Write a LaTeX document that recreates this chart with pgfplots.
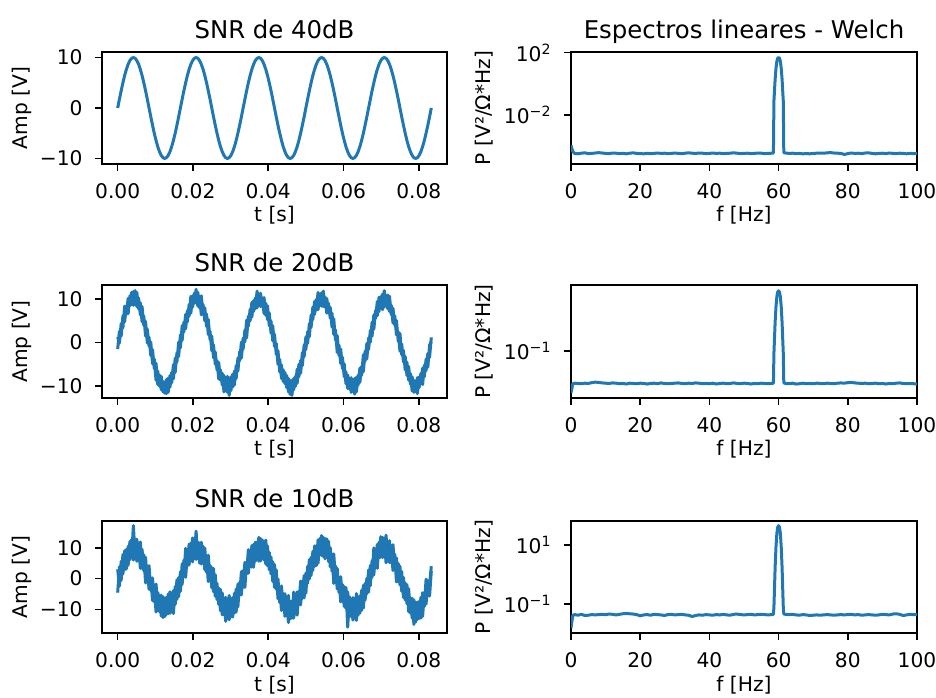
\documentclass[border=0pt]{standalone}
\usepackage{fontspec}
\setmainfont{DejaVu Sans}
\usepackage{pgfplots}
\usepackage{pgfplotstable}
\pgfplotsset{compat=1.18}

\definecolor{c0}{HTML}{1F77B4}
\newcommand\tickfont{\fontsize{10.1bp}{12bp}\selectfont}
\newcommand\titlefont{\fontsize{12.2bp}{14bp}\selectfont}

% time records: 40 dB trace, and two interleaved sample sets (a, b) for 20 dB and 10 dB
\pgfplotstableread{
t s40 a20 b20 a10 b10
0.00000 0 -1.5 1.3 -4.6 3.0
0.00046 1.74 2.6 -0.1 3.8 -2.5
0.00093 3.42 1.5 4.4 -0.6 5.6
0.00139 5.00 6.2 3.4 7.8 1.4
0.00185 6.43 4.8 8.4 2.8 9.0
0.00231 7.66 8.5 6.5 9.5 3.1
0.00278 8.66 6.7 10.2 4.3 10.5
0.00324 9.40 10.8 8.5 12.0 6.1
0.00370 9.85 8.8 11.6 6.9 12.7
0.00417 10.00 11.8 8.6 17.2 6.0
0.00463 9.85 8.7 12.0 7.5 12.3
0.00509 9.40 11.6 8.3 12.8 5.6
0.00556 8.66 7.8 10.3 6.7 10.7
0.00602 7.66 9.2 6.4 11.9 3.3
0.00648 6.43 4.8 8.3 3.3 9.5
0.00694 5.00 6.1 4.0 7.7 2.5
0.00741 3.42 1.5 4.9 -1.4 6.9
0.00787 1.74 3.1 -0.1 4.0 -1.3
0.00833 0 -0.8 1.2 -3.5 4.2
0.00880 -1.74 0.1 -3.0 0.2 -3.9
0.00926 -3.42 -4.9 -1.6 -7.2 0.2
0.00972 -5.00 -3.8 -6.0 -2.1 -7.6
0.01019 -6.43 -8.7 -4.8 -10.9 -1.8
0.01065 -7.66 -6.6 -9.7 -4.5 -9.5
0.01111 -8.66 -10.1 -7.5 -10.8 -5.4
0.01157 -9.40 -7.8 -10.9 -5.4 -12.2
0.01204 -9.85 -11.4 -9.0 -12.7 -5.9
0.01250 -10.00 -9.1 -11.7 -6.4 -12.4
0.01296 -9.85 -11.8 -8.5 -11.7 -6.1
0.01343 -9.40 -8.2 -11.5 -5.0 -11.4
0.01389 -8.66 -10.3 -7.6 -11.3 -4.3
0.01435 -7.66 -6.9 -9.3 -4.7 -10.8
0.01481 -6.43 -8.4 -5.1 -11.4 -3.9
0.01528 -5.00 -3.6 -6.9 -2.6 -8.5
0.01574 -3.42 -4.5 -2.4 -6.8 -0.4
0.01620 -1.74 0.1 -3.2 0.3 -5.9
0.01667 0 -1.2 1.8 -4.2 2.2
0.01713 1.74 3.9 0.5 4.8 -1.9
0.01759 3.42 2.5 4.7 0.7 6.0
0.01806 5.00 6.5 3.2 9.8 0.4
0.01852 6.43 4.8 7.4 4.1 8.2
0.01898 7.66 8.8 6.1 11.2 4.4
0.01944 8.66 6.8 10.7 6.8 11.5
0.01991 9.40 10.8 8.2 13.2 5.4
0.02037 9.85 9.1 11.4 7.0 12.3
0.02083 10.00 12.3 9.1 15.4 6.2
0.02130 9.85 8.4 11.6 6.7 11.9
0.02176 9.40 10.6 8.0 11.5 5.0
0.02222 8.66 6.4 10.8 4.7 11.8
0.02269 7.66 8.8 6.6 10.5 5.2
0.02315 6.43 5.0 8.0 2.8 9.9
0.02361 5.00 6.6 3.7 6.8 2.0
0.02407 3.42 1.9 5.3 -1.0 7.6
0.02454 1.74 2.6 0.7 4.3 -0.5
0.02500 0 -1.9 1.5 -3.0 3.6
0.02546 -1.74 -0.5 -3.5 3.3 -4.3
0.02593 -3.42 -5.0 -2.2 -5.8 1.2
0.02639 -5.00 -4.2 -6.3 -1.6 -6.8
0.02685 -6.43 -8.4 -4.6 -8.4 -3.1
0.02731 -7.66 -6.3 -8.7 -3.5 -10.5
0.02778 -8.66 -9.8 -7.1 -11.8 -4.7
0.02824 -9.40 -7.6 -11.4 -6.7 -11.8
0.02870 -9.85 -11.1 -8.7 -13.9 -6.1
0.02917 -10.00 -7.8 -11.5 -7.7 -12.0
0.02963 -9.85 -12.2 -9.0 -13.4 -5.5
0.03009 -9.40 -7.9 -11.1 -7.5 -12.5
0.03056 -8.66 -10.3 -7.3 -12.5 -6.2
0.03102 -7.66 -6.6 -9.8 -4.8 -11.2
0.03148 -6.43 -8.3 -5.3 -10.9 -3.4
0.03194 -5.00 -3.6 -6.6 -1.8 -9.2
0.03241 -3.42 -4.2 -2.1 -5.5 -1.2
0.03287 -1.74 0.1 -3.6 2.3 -5.3
0.03333 0 -1.5 1.0 -2.8 2.6
0.03380 1.74 2.9 0.2 5.3 -2.9
0.03426 3.42 1.1 5.2 1.6 5.2
0.03472 5.00 6.1 3.8 9.4 1.7
0.03519 6.43 5.0 7.7 3.8 9.2
0.03565 7.66 9.3 5.9 10.7 3.7
0.03611 8.66 7.2 9.7 3.7 11.1
0.03657 9.40 10.3 7.8 11.8 5.6
0.03704 9.85 8.0 11.9 6.5 11.9
0.03750 10.00 11.2 8.8 13.4 5.6
0.03796 9.85 8.3 11.4 5.7 13.0
0.03843 9.40 10.2 8.5 12.5 6.9
0.03889 8.66 6.7 10.4 6.0 12.2
0.03935 7.66 9.1 6.3 12.5 4.7
0.03981 6.43 5.3 8.5 4.1 10.6
0.04028 5.00 6.8 3.9 8.5 2.8
0.04074 3.42 2.2 5.0 1.5 7.0
0.04120 1.74 3.9 0.4 5.5 -0.9
0.04167 0 -0.9 1.9 -2.9 4.6
0.04213 -1.74 -0.2 -2.7 2.8 -3.5
0.04259 -3.42 -5.0 -1.9 -6.6 -0.1
0.04306 -5.00 -3.9 -6.8 -2.9 -7.8
0.04352 -6.43 -8.3 -5.2 -10.4 -2.4
0.04398 -7.66 -6.3 -9.0 -4.9 -10.1
0.04444 -8.66 -9.5 -6.9 -12.3 -4.9
0.04491 -9.40 -7.6 -10.4 -7.6 -11.4
0.04537 -9.85 -11.4 -8.3 -14.3 -5.5
0.04583 -10.00 -8.8 -12.0 -7.4 -13.1
0.04630 -9.85 -12.2 -8.7 -12.9 -7.4
0.04676 -9.40 -8.3 -10.9 -4.4 -12.9
0.04722 -8.66 -10.1 -7.8 -11.1 -5.7
0.04769 -7.66 -6.1 -9.4 -4.3 -11.9
0.04815 -6.43 -7.9 -5.0 -8.4 -4.2
0.04861 -5.00 -4.1 -7.1 -0.8 -8.6
0.04907 -3.42 -5.3 -2.3 -6.5 -0.8
0.04954 -1.74 -0.5 -3.3 1.0 -6.3
0.05000 0 -1.6 1.3 -4.8 1.8
0.05046 1.74 2.5 -0.2 4.0 -1.6
0.05093 3.42 1.4 4.4 -0.1 6.2
0.05139 5.00 6.4 3.5 6.9 1.0
0.05185 6.43 5.3 8.2 2.6 8.8
0.05231 7.66 9.5 6.5 10.6 3.9
0.05278 8.66 7.5 10.0 4.2 10.7
0.05324 9.40 11.6 7.6 12.6 5.0
0.05370 9.85 9.0 10.9 7.8 13.0
0.05417 10.00 11.5 8.4 14.0 7.5
0.05463 9.85 8.3 11.9 7.1 13.4
0.05509 9.40 10.5 8.2 13.0 6.4
0.05556 8.66 6.8 10.2 6.9 12.9
0.05602 7.66 9.1 6.8 12.1 5.5
0.05648 6.43 5.6 8.1 3.8 10.0
0.05694 5.00 6.8 3.6 8.0 2.4
0.05741 3.42 1.9 5.5 -1.6 8.0
0.05787 1.74 2.9 0.6 4.1 -0.1
0.05833 0 -2.3 1.6 -3.4 3.3
0.05880 -1.74 -0.6 -3.0 0.3 -4.5
0.05926 -3.42 -4.8 -1.5 -7.6 0.6
0.05972 -5.00 -3.4 -6.0 -1.9 -7.4
0.06019 -6.43 -7.9 -4.9 -9.1 -2.6
0.06065 -7.66 -6.8 -9.5 -2.9 -9.7
0.06111 -8.66 -10.6 -7.5 -15.8 -4.3
0.06157 -9.40 -8.2 -10.7 -5.9 -12.5
0.06204 -9.85 -11.5 -8.1 -11.8 -7.4
0.06250 -10.00 -9.2 -11.0 -6.2 -13.5
0.06296 -9.85 -11.9 -8.3 -12.8 -6.9
0.06343 -9.40 -8.0 -11.4 -4.9 -13.6
0.06389 -8.66 -9.8 -7.5 -11.9 -6.5
0.06435 -7.66 -5.9 -9.2 -5.6 -11.3
0.06481 -6.43 -7.6 -5.5 -10.4 -3.8
0.06528 -5.00 -2.8 -6.7 -2.2 -9.6
0.06574 -3.42 -4.3 -2.0 -7.0 -1.6
0.06620 -1.74 -0.2 -3.8 0.1 -5.0
0.06667 0 -1.6 1.1 -4.4 2.8
0.06713 1.74 2.8 0.1 4.3 -2.3
0.06759 3.42 1.5 4.7 0.4 5.8
0.06806 5.00 6.4 3.1 10.0 1.2
0.06852 6.43 5.6 7.4 4.0 8.4
0.06898 7.66 9.5 6.2 11.1 3.3
0.06944 8.66 7.2 10.5 6.7 11.8
0.06991 9.40 10.6 8.2 13.6 6.9
0.07037 9.85 7.6 11.2 6.8 13.4
0.07083 10.00 12.0 8.2 12.7 7.0
0.07130 9.85 8.5 10.9 5.1 14.1
0.07176 9.40 11.0 7.8 11.7 7.2
0.07222 8.66 7.2 10.7 5.2 12.3
0.07269 7.66 8.6 6.5 9.6 5.1
0.07315 6.43 4.5 7.9 2.6 11.0
0.07361 5.00 6.2 4.1 7.9 3.2
0.07407 3.42 1.8 5.1 -1.1 6.7
0.07454 1.74 2.5 0.3 4.9 -1.1
0.07500 0 -2.0 2.1 -2.1 4.0
0.07546 -1.74 -0.3 -2.8 2.3 -4.1
0.07593 -3.42 -4.5 -1.8 -6.2 0.4
0.07639 -5.00 -3.2 -6.3 -1.4 -7.0
0.07685 -6.43 -7.6 -4.5 -8.2 -2.0
0.07731 -7.66 -5.5 -8.7 -3.3 -10.8
0.07778 -8.66 -9.6 -7.2 -11.3 -6.2
0.07824 -9.40 -7.9 -11.2 -6.4 -12.9
0.07870 -9.85 -11.5 -8.7 -14.9 -6.9
0.07917 -10.00 -8.9 -11.3 -7.6 -14.2
0.07963 -9.85 -11.8 -8.1 -13.3 -7.7
0.08009 -9.40 -8.0 -10.4 -7.4 -13.0
0.08056 -8.66 -9.5 -7.1 -12.9 -6.1
0.08102 -7.66 -5.9 -9.7 -4.6 -12.3
0.08148 -6.43 -7.9 -5.2 -9.1 -4.6
0.08194 -5.00 -3.8 -6.5 -0.2 -8.3
0.08241 -3.42 -5.7 -2.5 -5.7 -0.6
0.08287 -1.74 -0.6 -3.4 -2.0 -5.7
0.08333 0 0.2 1.2 4.0 2.4
}\sig

% Welch power spectral densities
\pgfplotstableread{
f p40 p20 p10
0 1.1e-4 1.3e-3 1.55e-2
0.5 4.6e-5 3.3e-3 4.1e-2
1 3.4e-5 3.6e-3 4.4e-2
2 3.2e-5 3.5e-3 4.2e-2
3 3.5e-5 3.4e-3 4.5e-2
4 3.7e-5 3.6e-3 4.1e-2
5 3.3e-5 3.5e-3 4.2e-2
6 3.4e-5 3.8e-3 4.4e-2
7 3.6e-5 4.0e-3 4.3e-2
8 3.8e-5 3.9e-3 4.4e-2
9 3.6e-5 3.7e-3 4.5e-2
10 3.4e-5 3.6e-3 4.4e-2
11 3.3e-5 3.5e-3 4.6e-2
12 3.6e-5 3.7e-3 4.5e-2
13 3.5e-5 3.6e-3 4.3e-2
14 3.3e-5 3.4e-3 4.5e-2
15 3.4e-5 3.5e-3 4.7e-2
16 3.2e-5 3.3e-3 4.8e-2
17 3.5e-5 3.6e-3 4.7e-2
18 3.7e-5 3.5e-3 4.6e-2
19 3.4e-5 3.4e-3 4.4e-2
20 3.3e-5 3.6e-3 4.0e-2
21 3.2e-5 3.5e-3 4.3e-2
22 3.4e-5 3.3e-3 4.4e-2
23 3.3e-5 3.5e-3 4.2e-2
24 3.4e-5 3.6e-3 4.5e-2
25 3.6e-5 3.4e-3 4.4e-2
26 3.4e-5 3.7e-3 4.3e-2
27 3.5e-5 3.5e-3 4.1e-2
28 3.3e-5 3.4e-3 4.4e-2
29 3.4e-5 3.5e-3 4.5e-2
30 3.6e-5 3.6e-3 4.3e-2
31 3.4e-5 3.7e-3 4.4e-2
32 3.3e-5 3.5e-3 4.5e-2
33 3.5e-5 3.4e-3 4.3e-2
34 3.7e-5 3.6e-3 4.2e-2
35 3.5e-5 3.5e-3 3.8e-2
36 3.4e-5 3.7e-3 4.1e-2
37 3.6e-5 3.6e-3 4.3e-2
38 3.5e-5 3.4e-3 4.2e-2
39 3.3e-5 3.5e-3 4.4e-2
40 3.4e-5 3.4e-3 4.3e-2
41 3.6e-5 3.6e-3 4.2e-2
42 3.4e-5 3.3e-3 4.4e-2
43 3.5e-5 3.5e-3 4.3e-2
44 3.3e-5 3.6e-3 4.5e-2
45 3.4e-5 3.4e-3 4.3e-2
46 3.5e-5 3.5e-3 4.2e-2
47 3.7e-5 3.7e-3 4.5e-2
48 3.5e-5 3.5e-3 4.6e-2
49 3.3e-5 3.4e-3 4.4e-2
50 3.4e-5 3.6e-3 4.3e-2
51 3.5e-5 3.5e-3 4.4e-2
52 3.3e-5 3.3e-3 4.5e-2
53 3.4e-5 3.5e-3 4.3e-2
54 3.6e-5 3.4e-3 4.4e-2
55 3.5e-5 3.6e-3 4.5e-2
56 3.3e-5 3.5e-3 4.4e-2
57 3.4e-5 3.4e-3 4.3e-2
58 3.5e-5 3.5e-3 4.4e-2
58.5 3.6e-5 3.6e-3 4.5e-2
58.65 0.08 0.08 0.08
59 2 2 1.8
59.25 10 10 9
59.5 28 28 25
59.75 44 44 40
60 50 50 45
60.25 44 44 40
60.5 28 28 25
60.75 10 10 9
61 2 2 1.8
61.35 0.08 0.08 0.08
61.5 3.8e-5 3.7e-3 4.6e-2
62 3.6e-5 3.5e-3 4.5e-2
63 3.4e-5 3.4e-3 4.4e-2
64 3.5e-5 3.6e-3 4.5e-2
65 3.3e-5 3.3e-3 4.3e-2
66 3.4e-5 3.4e-3 4.2e-2
67 3.2e-5 3.6e-3 4.4e-2
68 3.3e-5 3.4e-3 4.3e-2
69 3.2e-5 3.5e-3 4.1e-2
70 3.4e-5 3.4e-3 4.2e-2
71 3.5e-5 3.6e-3 4.3e-2
72 3.6e-5 3.5e-3 4.2e-2
73 3.5e-5 3.4e-3 4.3e-2
74 3.7e-5 3.6e-3 4.4e-2
75 3.8e-5 3.5e-3 4.3e-2
76 3.6e-5 3.4e-3 4.2e-2
77 3.5e-5 3.6e-3 4.3e-2
78 3.4e-5 3.7e-3 4.4e-2
79 2.9e-5 3.6e-3 4.3e-2
80 3.3e-5 3.8e-3 4.4e-2
81 3.6e-5 3.9e-3 4.5e-2
82 3.4e-5 3.7e-3 4.3e-2
83 3.5e-5 3.6e-3 4.4e-2
84 3.3e-5 3.5e-3 4.2e-2
85 3.6e-5 3.6e-3 4.3e-2
86 3.7e-5 3.4e-3 4.4e-2
87 3.4e-5 3.5e-3 4.3e-2
88 3.2e-5 3.6e-3 4.2e-2
89 3.4e-5 3.4e-3 4.3e-2
90 3.5e-5 3.5e-3 4.5e-2
91 3.3e-5 3.3e-3 4.4e-2
92 3.6e-5 3.5e-3 4.3e-2
93 3.4e-5 3.4e-3 4.6e-2
94 3.3e-5 3.6e-3 4.7e-2
95 3.5e-5 3.7e-3 4.5e-2
96 3.4e-5 3.5e-3 4.1e-2
97 3.2e-5 3.4e-3 4.3e-2
98 3.4e-5 3.5e-3 4.5e-2
99 3.3e-5 3.4e-3 4.4e-2
100 3.4e-5 3.3e-3 4.4e-2
}\psd

\pgfplotsset{
  mpl/.style={
    scale only axis, anchor=south west,
    axis line style={line width=0.8bp},
    tick align=outside,
    major tick length=3.55bp, minor tick length=0pt,
    every tick/.style={black, line width=0.8bp},
    xtick pos=bottom, ytick pos=left,
    scaled x ticks=false, scaled y ticks=false,
    tick label style={font=\tickfont},
    xticklabel style={inner sep=0pt, anchor=base, yshift=-13.7bp},
    yticklabel style={inner sep=0pt, anchor=east, xshift=-6bp},
    label style={font=\tickfont},
    xlabel style={at={(axis description cs:0.5,0)}, anchor=base, yshift=-29bp, inner sep=0pt},
    every axis title shift=0pt,
    title style={font=\titlefont, at={(axis description cs:0.5,1)}, anchor=base, yshift=6.8bp, inner sep=0pt},
    /pgf/number format/assume math mode=true,
  },
  sigax/.style={mpl, width=172.5bp,
    xmin=-0.0041667, xmax=0.0875,
    xtick={0,0.02,0.04,0.06,0.08},
    xticklabels={0.00,0.02,0.04,0.06,0.08},
    ytick={-10,0,10}, yticklabels={−10,0,10},
    xlabel={t [s]}, ylabel={Amp [V]},
    ylabel style={at={(axis description cs:-0.2328,0.5)}, anchor=center, inner sep=0pt},
  },
  psdax/.style={mpl, width=173bp,
    xmin=0, xmax=100, xtick={0,20,40,60,80,100},
    xticklabels={0,20,40,60,80,100},
    xlabel={f [Hz]}, ylabel={P [V²/Ω*Hz]},
    ylabel style={at={(axis description cs:-0.2514,0.5)}, anchor=center, inner sep=0pt},
  },
  trace/.style={c0, line width=1.5bp, line join=round},
}

\begin{document}
\begin{tikzpicture}
\path[use as bounding box] (0,0) rectangle (468bp,349bp);

% row 1: 40 dB
\begin{axis}[sigax, at={(51bp,267bp)}, height=56bp, ymin=-11.1, ymax=11.1,
  title={SNR de 40dB}]
\addplot[trace] table[x=t, y=s40] {\sig};
\end{axis}
\begin{axis}[ymode=log, psdax, at={(285.5bp,267bp)}, height=56bp, ymin=7.1e-6, ymax=110,
  ytick={1e-2,1e2}, yticklabels={10\textsuperscript{−2},10\textsuperscript{2}},
  title={Espectros lineares - Welch}]
\addplot[trace] table[x=f, y=p40] {\psd};
\end{axis}

% row 2: 20 dB
\begin{axis}[sigax, at={(51bp,150bp)}, height=56.5bp, ymin=-12.8, ymax=13.3,
  title={SNR de 20dB}]
\addplot[trace] table[x=t, y=a20] {\sig};
\addplot[trace] table[x=t, y=b20] {\sig};
\end{axis}
\begin{axis}[ymode=log, psdax, at={(285.5bp,150bp)}, height=56.5bp, ymin=7.8e-4, ymax=91,
  ytick={1e-1}, yticklabels={10\textsuperscript{−1}}]
\addplot[trace] table[x=f, y=p20] {\psd};
\end{axis}

% row 3: 10 dB
\begin{axis}[sigax, at={(51bp,32.5bp)}, height=56bp, ymin=-17.7, ymax=18.7,
  title={SNR de 10dB}]
\addplot[trace] table[x=t, y=a10] {\sig};
\addplot[trace] table[x=t, y=b10] {\sig};
\end{axis}
\begin{axis}[ymode=log, psdax, at={(285.5bp,32.5bp)}, height=56bp, ymin=1.05e-2, ymax=64.6,
  ytick={1e-1,1e1}, yticklabels={10\textsuperscript{−1},10\textsuperscript{1}}]
\addplot[trace] table[x=f, y=p10] {\psd};
\end{axis}
\end{tikzpicture}
\end{document}
